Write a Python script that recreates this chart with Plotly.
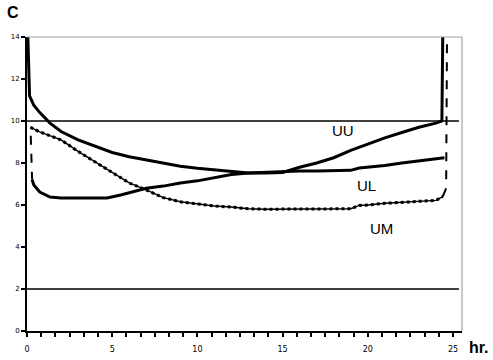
import plotly.graph_objects as go

# ---- data ----
uu_x = [0.05, 0.15, 0.4, 0.75, 1.35, 2, 3, 4, 5, 6, 7, 8, 9, 10, 11, 12, 13, 14, 15,
        16, 17, 18, 19, 20, 21, 22, 23, 24, 24.35, 24.4]
uu_y = [14.0, 11.2, 10.75, 10.4, 9.9, 9.5, 9.1, 8.8, 8.5, 8.3, 8.15, 8.0, 7.85, 7.75, 7.67,
        7.58, 7.52, 7.52, 7.55, 7.8, 8.0, 8.25, 8.6, 8.9, 9.2, 9.45, 9.7, 9.9, 10.0, 14.0]

ul_x = [0.22, 0.3, 0.4, 0.75, 1.35, 2, 3, 4, 4.7, 5.5, 6.2, 7, 8, 9, 10, 11, 12, 13, 14,
        15, 16, 17, 18, 19, 19.5, 20, 21, 22, 23, 24, 24.5]
ul_y = [9.3, 7.2, 6.95, 6.62, 6.38, 6.33, 6.33, 6.33, 6.33, 6.48, 6.62, 6.8, 6.9, 7.05,
        7.15, 7.3, 7.45, 7.52, 7.55, 7.6, 7.62, 7.62, 7.62, 7.65, 7.76, 7.8, 7.88, 8.0,
        8.1, 8.2, 8.25]

um_x = [0.2, 0.75, 2, 3, 4, 5, 6, 7, 8, 9, 10, 11, 12, 13, 14, 15, 16, 17, 18, 19, 19.5,
        20, 21, 22, 23, 24, 24.4, 24.6, 24.65]
um_y = [9.7, 9.48, 9.1, 8.55, 8.05, 7.55, 7.05, 6.72, 6.35, 6.15, 6.05, 5.95, 5.9, 5.82,
        5.8, 5.8, 5.8, 5.8, 5.8, 5.82, 5.98, 6.0, 6.08, 6.12, 6.18, 6.22, 6.4, 6.8, 14.0]

ref_lines = [10, 2]
x_ticks = [0, 5, 10, 15, 20, 25]
y_ticks = [0, 2, 4, 6, 8, 10, 12, 14]

fig = go.Figure()
LW = 3
fig.add_trace(go.Scatter(x=uu_x, y=uu_y, mode="lines", line=dict(color="black", width=LW)))
fig.add_trace(go.Scatter(x=ul_x[:2], y=ul_y[:2], mode="lines",
                         line=dict(color="black", width=2, dash="dash")))
fig.add_trace(go.Scatter(x=ul_x[1:], y=ul_y[1:], mode="lines",
                         line=dict(color="black", width=LW)))
fig.add_trace(go.Scatter(x=um_x[:-2], y=um_y[:-2], mode="lines",
                         line=dict(color="black", width=LW, dash="dot")))
fig.add_trace(go.Scatter(x=um_x[:-2], y=um_y[:-2], mode="lines",
                         line=dict(color="black", width=1.5)))
fig.add_trace(go.Scatter(x=um_x[-3:], y=um_y[-3:], mode="lines",
                         line=dict(color="black", width=2, dash="dash")))

for v in ref_lines:
    fig.add_shape(type="line", xref="x", yref="y", x0=0, x1=25.35, y0=v, y1=v,
                  line=dict(color="black", width=1.5))

# top & right grey border
fig.add_shape(type="line", xref="paper", yref="paper", x0=0, x1=1, y0=1, y1=1,
              line=dict(color="#9aa6a6", width=1.2))
fig.add_shape(type="line", xref="paper", yref="paper", x0=1, x1=1, y0=0, y1=1,
              line=dict(color="#9aa6a6", width=1.2))

lab_font = dict(family="Liberation Sans, Arial", size=15, color="black")
fig.add_annotation(x=18.55, y=9.57, text="UU", showarrow=False, font=lab_font)
fig.add_annotation(x=19.95, y=6.95, text="UL", showarrow=False, font=lab_font)
fig.add_annotation(x=20.8, y=4.9, text="UM", showarrow=False, font=lab_font)

fig.add_annotation(xref="paper", yref="paper", x=-0.032, y=1.085, text="<b>C</b>",
                   showarrow=False, xanchor="center", yanchor="middle",
                   font=dict(family="Liberation Sans, Arial", size=16, color="black"))
fig.add_annotation(xref="paper", yref="paper", x=1.012, y=-0.055, text="<b>hr.</b>",
                   showarrow=False, xanchor="left", yanchor="middle",
                   font=dict(family="Liberation Sans, Arial", size=16, color="black"))

fig.update_layout(
    width=493, height=360,
    margin=dict(l=27, r=31, t=37, b=29, autoexpand=False),
    paper_bgcolor="white", plot_bgcolor="white",
    showlegend=False,
    xaxis=dict(range=[0, 25.53], tickvals=x_ticks, showgrid=False, zeroline=False,
               automargin=False, ticklabelstandoff=5,
               showline=True, linecolor="black", linewidth=2,
               ticks="outside", ticklen=4, tickwidth=1.5, tickcolor="black",
               minor=dict(dtick=5/6, tick0=0, ticks="outside", ticklen=4,
                          tickwidth=1.5, tickcolor="black", showgrid=False),
               tickfont=dict(family="DejaVu Sans", size=8, color="black")),
    yaxis=dict(range=[0, 14], tickvals=y_ticks, showgrid=False, zeroline=False,
               automargin=False,
               showline=True, linecolor="black", linewidth=2,
               ticks="outside", ticklen=4, tickwidth=1.5, tickcolor="black",
               tickfont=dict(family="DejaVu Sans", size=7, color="black")),
)

fig.write_html("out.html", config={"displayModeBar": False},
               post_script="document.body.style.margin='0';document.body.style.padding='0';")
